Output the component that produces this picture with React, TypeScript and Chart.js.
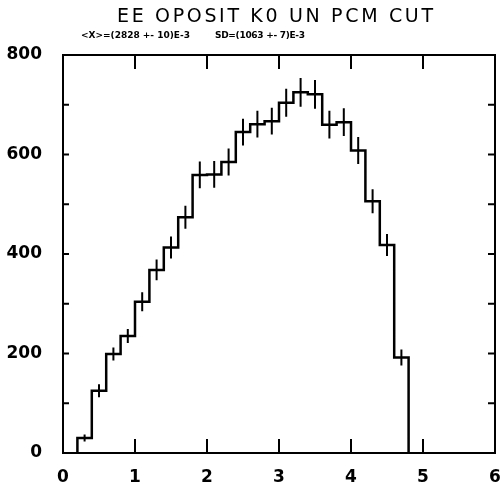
import { useEffect, useRef } from "react";
import { Chart, registerables } from "chart.js";

Chart.register(...registerables);

const titleText = "EE OPOSIT K0 UN PCM CUT";
const statMean = "<X>=(2828 +- 10)E-3";
const statSd = "SD=(1063 +- 7)E-3";

const binStart = 0.2;
const binWidth = 0.2;
const counts = [30, 125, 199, 235, 304, 368, 413, 474, 559, 560, 585, 645, 661, 667, 704, 725, 721, 660, 665, 608, 506, 418, 192];
const errors = [7, 13, 13, 14, 19, 21, 22, 23, 27, 27, 27, 27, 27, 27, 28, 29, 29, 28, 28, 27, 24, 22, 16];

const xMin = 0;
const xMax = 6;
const yMin = 0;
const yMax = 800;
const xTickStep = 1;
const yLabelStep = 200;
const yTickStep = 100;

export default function App() {
  const ref = useRef<HTMLCanvasElement>(null);

  useEffect(() => {
    document.body.style.margin = "0";
    const canvas = ref.current;
    if (!canvas) return;

    const hist: { x: number; y: number }[] = [{ x: binStart, y: 0 }];
    counts.forEach((c, i) => {
      const lo = binStart + i * binWidth;
      const hi = lo + binWidth;
      hist.push({ x: lo, y: c });
      hist.push({ x: hi, y: c });
    });
    const end = binStart + counts.length * binWidth;
    hist.push({ x: end, y: 0 });

    const errPts: { x: number; y: number | null }[] = [];
    counts.forEach((c, i) => {
      const cx = binStart + (i + 0.5) * binWidth;
      errPts.push({ x: cx, y: c - errors[i] });
      errPts.push({ x: cx, y: c + errors[i] });
      errPts.push({ x: cx, y: null });
    });

    const spaced = (ctx: CanvasRenderingContext2D, text: string, x: number, y: number, width: number, font: string) => {
      ctx.font = font;
      (ctx as any).letterSpacing = "0px";
      const w = ctx.measureText(text).width;
      const ls = (width - w) / Math.max(1, text.length - 1);
      (ctx as any).letterSpacing = ls + "px";
      ctx.textAlign = "left";
      ctx.textBaseline = "alphabetic";
      ctx.fillStyle = "#000";
      ctx.fillText(text, x, y);
      (ctx as any).letterSpacing = "0px";
    };

    const framePlugin = {
      id: "frame",
      afterDraw(chart: any) {
        const ctx: CanvasRenderingContext2D = chart.ctx;
        const { left, right, top, bottom } = chart.chartArea;
        const xs = chart.scales.x;
        const ys = chart.scales.y;
        ctx.save();
        ctx.strokeStyle = "#000";
        ctx.lineWidth = 2;
        ctx.strokeRect(left, top, right - left, bottom - top);
        ctx.beginPath();
        for (let v = xMin; v <= xMax; v += xTickStep) {
          const px = xs.getPixelForValue(v);
          ctx.moveTo(px, bottom);
          ctx.lineTo(px, bottom - 14);
          ctx.moveTo(px, top);
          ctx.lineTo(px, top + 14);
        }
        for (let v = yMin; v <= yMax; v += yTickStep) {
          const py = ys.getPixelForValue(v);
          ctx.moveTo(left, py);
          ctx.lineTo(left + 6, py);
          ctx.moveTo(right, py);
          ctx.lineTo(right - 7, py);
        }
        ctx.stroke();
        spaced(ctx, titleText, 117, 21.7, 316, "19px 'DejaVu Sans'");
        spaced(ctx, statMean, 81, 38.3, 109, "bold 9px 'DejaVu Sans'");
        spaced(ctx, statSd, 215, 38.3, 90, "bold 9px 'DejaVu Sans'");
        ctx.restore();
      },
    };

    const zeroPad = (s: any) => {
      s.paddingLeft = 0;
      s.paddingRight = 0;
      s.paddingTop = 0;
      s.paddingBottom = 0;
    };

    const chart = new Chart(canvas, {
      type: "line",
      data: {
        datasets: [
          {
            data: hist as any,
            borderColor: "#000",
            borderWidth: 2.5,
            pointRadius: 0,
            tension: 0,
            fill: false,
          },
          {
            data: errPts as any,
            borderColor: "#000",
            borderWidth: 2,
            pointRadius: 0,
            tension: 0,
            fill: false,
            spanGaps: false,
          },
        ],
      },
      options: {
        animation: false,
        responsive: false,
        layout: { padding: { top: 55, right: 6, left: 0, bottom: 0 } },
        plugins: {
          legend: { display: false },
          tooltip: { enabled: false },
          title: { display: false },
        },
        scales: {
          x: {
            type: "linear",
            min: xMin,
            max: xMax,
            grid: { display: false },
            border: { display: false },
            ticks: {
              stepSize: xTickStep,
              color: "#000",
              padding: 6,
              maxRotation: 0,
              font: { family: "DejaVu Sans", size: 17, weight: "bold" },
            },
            afterFit: (s: any) => {
              s.height = 31;
              zeroPad(s);
            },
          },
          y: {
            type: "linear",
            min: yMin,
            max: yMax,
            grid: { display: false },
            border: { display: false },
            ticks: {
              stepSize: yLabelStep,
              color: "#000",
              padding: 13,
              font: { family: "DejaVu Sans", size: 17, weight: "bold" },
            },
            afterFit: (s: any) => {
              s.width = 63;
              zeroPad(s);
            },
          },
        },
      },
      plugins: [framePlugin],
    });

    return () => chart.destroy();
  }, []);

  return <canvas ref={ref} width={501} height={484} style={{ display: "block" }} />;
}
